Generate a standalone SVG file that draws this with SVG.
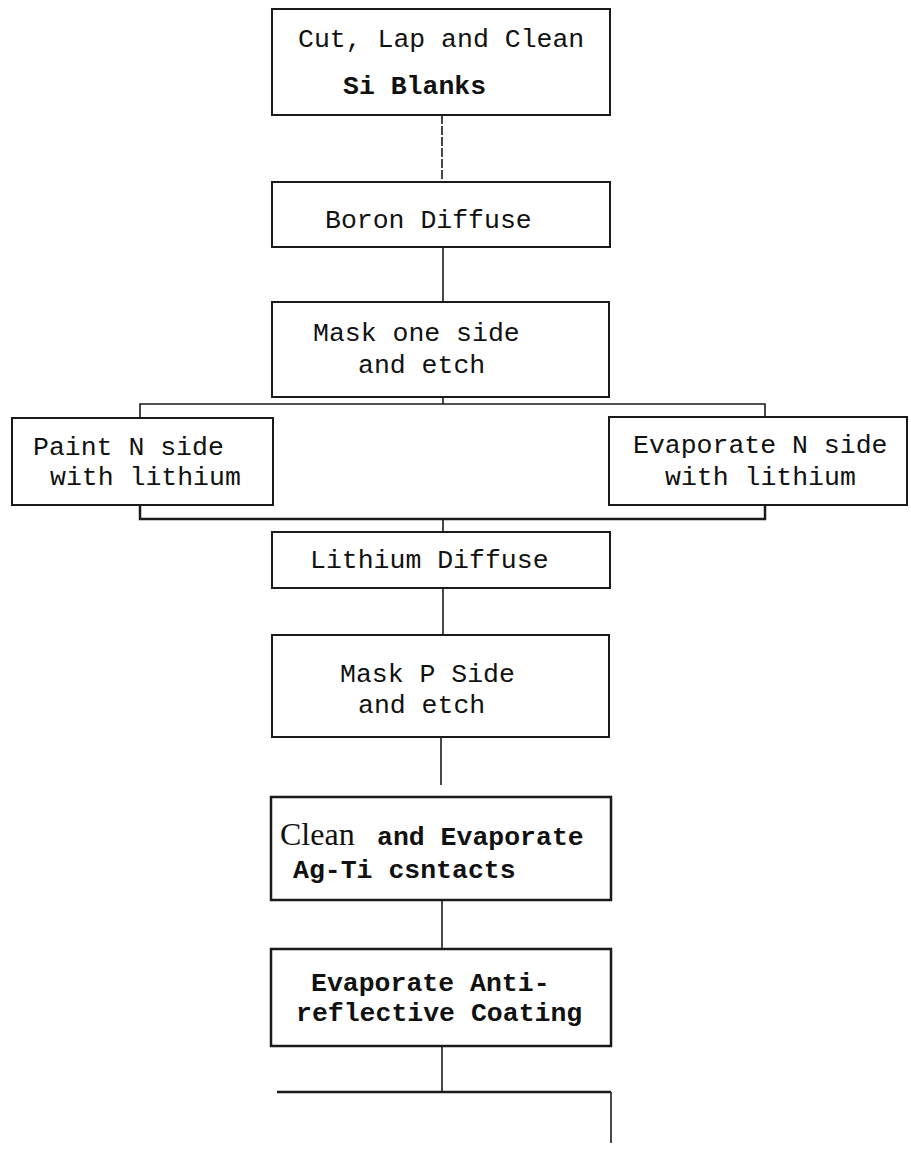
<svg xmlns="http://www.w3.org/2000/svg" width="911" height="1150" viewBox="0 0 911 1150">
<style>
.box{fill:#fff;stroke:#1a1a1a;stroke-width:2}
.box2{fill:#fff;stroke:#1a1a1a;stroke-width:2.5}
.ln{stroke:#1a1a1a;stroke-width:1.6;fill:none}
.ln2{stroke:#1a1a1a;stroke-width:2.5;fill:none}
.t{font-family:"Liberation Mono",monospace;font-size:26.5px;fill:#111}
.tb{font-family:"Liberation Mono",monospace;font-size:26.5px;font-weight:bold;fill:#111}
.ts{font-family:"Liberation Serif",serif;font-size:32px;fill:#111}
</style>
<rect width="911" height="1150" fill="#fff"/>
<g id="connectors">
<line class="ln" x1="442" y1="115" x2="442" y2="182" stroke-dasharray="9 2"/>
<line class="ln" x1="443" y1="247" x2="443" y2="302"/>
<line class="ln" x1="443" y1="397" x2="443" y2="404"/>
<polyline class="ln" points="140,418 140,404 765,404 765,417"/>
<polyline class="ln2" points="140,505 140,519 765,519 765,505"/>
<line class="ln" x1="443" y1="519" x2="443" y2="532"/>
<line class="ln" x1="443" y1="588" x2="443" y2="635"/>
<line class="ln" x1="441" y1="737" x2="441" y2="785"/>
<line class="ln" x1="442" y1="900" x2="442" y2="949"/>
<line class="ln" x1="442" y1="1046" x2="442" y2="1092"/>
<line class="ln2" x1="277" y1="1092" x2="611" y2="1092" stroke-width="3"/>
<line class="ln" x1="611" y1="1092" x2="611" y2="1143"/>
</g>
<g id="n1">
<rect class="box" x="272" y="9" width="338" height="106"/>
<text class="t" x="298" y="47">Cut, Lap and Clean</text>
<text class="tb" x="343" y="94">Si Blanks</text>
</g>
<g id="n2">
<rect class="box" x="272" y="182" width="338" height="65"/>
<text class="t" x="325" y="228">Boron Diffuse</text>
</g>
<g id="n3">
<rect class="box" x="272" y="302" width="337" height="95"/>
<text class="t" x="313" y="341">Mask one side</text>
<text class="t" x="358" y="373">and etch</text>
</g>
<g id="n4">
<rect class="box" x="12" y="418" width="261" height="87"/>
<text class="t" x="33" y="455">Paint N side</text>
<text class="t" x="50" y="485">with lithium</text>
</g>
<g id="n5">
<rect class="box" x="609" y="417" width="298" height="88"/>
<text class="t" x="633" y="453">Evaporate N side</text>
<text class="t" x="665" y="485">with lithium</text>
</g>
<g id="n6">
<rect class="box" x="272" y="532" width="338" height="56"/>
<text class="t" x="310" y="568">Lithium Diffuse</text>
</g>
<g id="n7">
<rect class="box" x="272" y="635" width="337" height="102"/>
<text class="t" x="340" y="682">Mask P Side</text>
<text class="t" x="358" y="713">and etch</text>
</g>
<g id="n8">
<rect class="box2" x="271" y="797" width="340" height="103"/>
<text x="280" y="845"><tspan class="ts">Clean</tspan><tspan class="tb" x="377">and Evaporate</tspan></text>
<text class="tb" x="293" y="878">Ag-Ti csntacts</text>
</g>
<g id="n9">
<rect class="box2" x="271" y="949" width="340" height="97"/>
<text class="tb" x="311" y="991">Evaporate Anti-</text>
<text class="tb" x="296" y="1021">reflective Coating</text>
</g>
</svg>
